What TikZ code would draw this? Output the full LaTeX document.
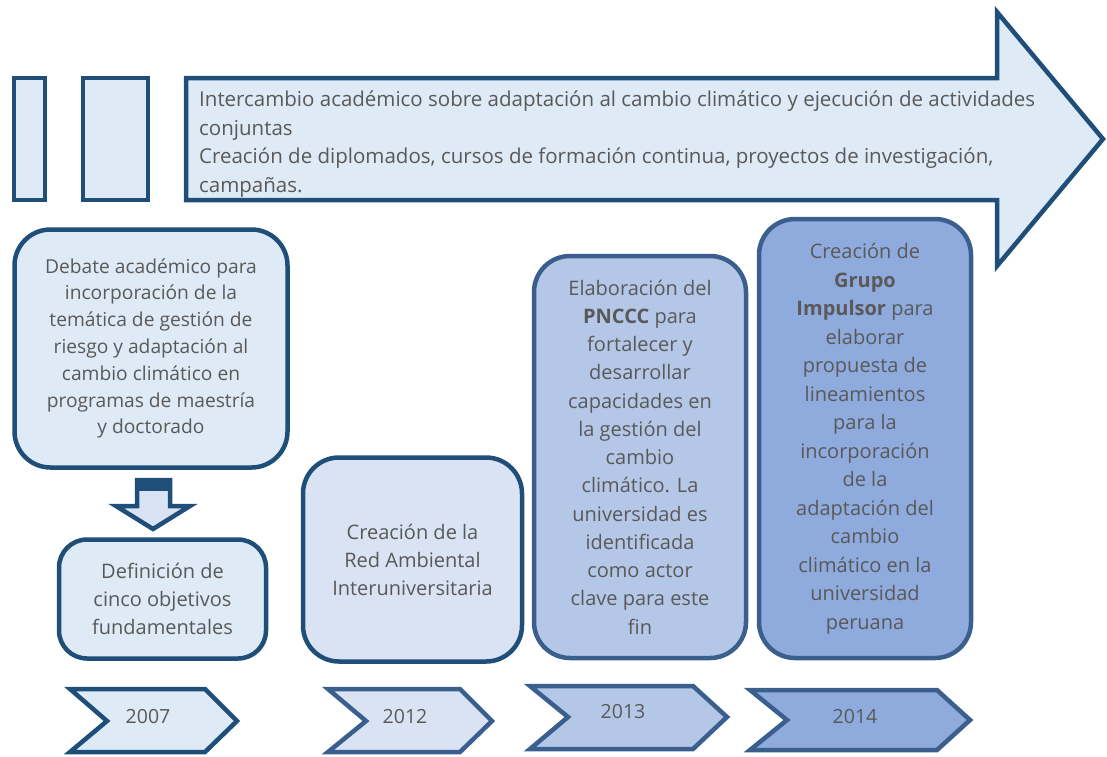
\documentclass[tikz,border=0pt]{standalone}
\usepackage{fontspec}
\setmainfont{Open Sans}
\definecolor{navy}{RGB}{31,78,121}
\definecolor{midnavy}{RGB}{58,95,142}
\definecolor{lightf}{RGB}{222,234,246}
\definecolor{f2012}{RGB}{218,227,243}
\definecolor{f2013}{RGB}{180,199,231}
\definecolor{f2014}{RGB}{143,170,220}
\definecolor{txt}{RGB}{89,89,89}
\begin{document}
\begin{tikzpicture}[x=1pt,y=-1pt,
  shape line/.style={line width=4.5pt, line join=miter},
  box/.style={draw=navy, line width=4.5pt, rounded corners=36pt, fill=lightf, text=txt, align=center, inner sep=0pt},
  yeartxt/.style={text=txt, font=\fontsize{19.5}{23}\selectfont, inner sep=0pt},
  fnormal/.style={font=\fontsize{20}{28}\selectfont},
]
\useasboundingbox (0,0) rectangle (1107,756);

% top bars and big arrow
\draw[shape line, draw=navy, fill=lightf] (14,78) rectangle (45,200);
\draw[shape line, draw=navy, fill=lightf] (83,78) rectangle (148,200);
\draw[shape line, draw=navy, fill=lightf] (186,78) -- (997,78) -- (997,12) -- (1103,139) -- (997,266) -- (997,200) -- (186,200) -- cycle;
\node[text=txt, font=\fontsize{20.5}{28.4}\selectfont, anchor=base west, align=left, inner sep=0pt] (top) at (199,192)
 {Intercambio académico sobre adaptación al cambio climático y ejecución de actividades\\
  conjuntas\\
  Creación de diplomados, cursos de formación continua, proyectos de investigación,\\
  campañas.};

% box 1
\node[box, minimum width=273pt, minimum height=238pt, font=\fontsize{19.2}{26.8}\selectfont] (b1) at (151,348.5)
 {Debate académico para\\incorporación de la\\temática de gestión de\\riesgo y adaptación al\\cambio climático en\\programas de maestría\\y doctorado};

% down arrow
\draw[shape line, draw=navy, fill=f2012] (137,480) -- (170,480) -- (170,506) -- (190,506) -- (153,529) -- (116,506) -- (137,506) -- cycle;
\fill[navy] (135,478) rectangle (172,491);

% box 2007 bottom
\node[box, rounded corners=28pt, minimum width=207pt, minimum height=119pt, fnormal] (b2) at (162.5,599)
 {Definición de\\cinco objetivos\\fundamentales};

% box 2012
\node[box, fill=f2012, minimum width=219pt, minimum height=204pt, fnormal] (b3) at (412.5,559.5)
 {Creación de la\\Red Ambiental\\Interuniversitaria};

% box 2013
\node[box, draw=midnavy, fill=f2013, minimum width=212pt, minimum height=402pt, font=\fontsize{20}{28.25}\selectfont] (b4) at (640,457)
 {Elaboración del\\\textbf{PNCCC} para\\fortalecer y\\desarrollar\\capacidades en\\la gestión del\\cambio\\climático. La\\universidad es\\identificada\\como actor\\clave para este\\fin};

% box 2014
\node[box, draw=midnavy, fill=f2014, minimum width=212pt, minimum height=439pt, font=\fontsize{20}{28.5}\selectfont] (b5) at (865,438.5)
 {Creación de\\\textbf{Grupo}\\\textbf{Impulsor} para\\elaborar\\propuesta de\\lineamientos\\para la\\incorporación\\de la\\adaptación del\\cambio\\climático en la\\universidad\\peruana};

% chevrons
\draw[shape line, draw=navy, fill=lightf] (70,689) -- (205,689) -- (237,721) -- (205,752) -- (70,752) -- (107,721) -- cycle;
\node[yeartxt] (y1) at (148,717) {2007};
\draw[shape line, draw=midnavy, fill=f2012] (328,689) -- (460,689) -- (492,721) -- (460,752) -- (328,752) -- (366,721) -- cycle;
\node[yeartxt] (y2) at (405,717) {2012};
\draw[shape line, draw=midnavy, fill=f2013] (530,686) -- (693,686) -- (727,717) -- (693,749) -- (530,749) -- (568,717) -- cycle;
\node[yeartxt] (y3) at (623,712) {2013};
\draw[shape line, draw=midnavy, fill=f2014] (750,690) -- (937,690) -- (970,720) -- (937,750) -- (750,750) -- (787,720) -- cycle;
\node[yeartxt] (y4) at (855,717) {2014};
\end{tikzpicture}
\end{document}
